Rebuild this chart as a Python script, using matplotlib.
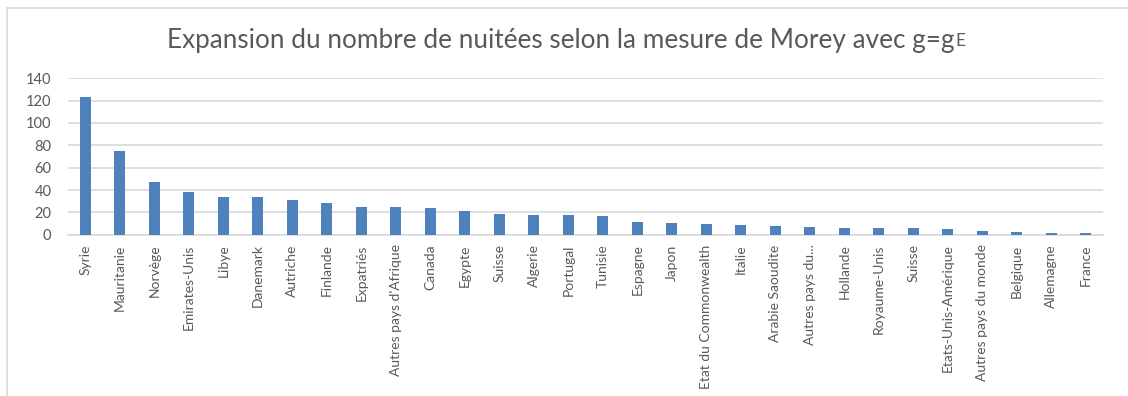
import matplotlib.pyplot as plt
from matplotlib.lines import Line2D
import numpy as np

pays = ["Syrie", "Mauritanie", "Norvège", "Emirates-Unis", "Libye", "Danemark",
        "Autriche", "Finlande", "Expatriés", "Autres pays d'Afrique", "Canada",
        "Egypte", "Suisse", "Algerie", "Portugal", "Tunisie", "Espagne", "Japon",
        "Etat du Commonwealth", "Italie", "Arabie Saoudite", "Autres pays du...",
        "Hollande", "Royaume-Unis", "Suisse", "Etats-Unis-Amérique",
        "Autres pays du monde", "Belgique", "Allemagne", "France"]
expansion = [123, 75, 47, 38, 34, 34, 31, 28.5, 25, 24.7, 24, 21.5, 18.5, 18,
             17.6, 16.7, 11.6, 10.7, 9.3, 9, 7.5, 7.3, 6, 6, 6, 4.8, 3.3, 2.4,
             1.5, 1.2]
yticks = [0, 20, 40, 60, 80, 100, 120, 140]

gris = "#595959"
plt.rcParams["font.family"] = ["Lato", "DejaVu Sans"]

fig = plt.figure(figsize=(11.28, 3.96), dpi=100)
ax = fig.add_axes([0.0603, 0.4073, 0.9177, 0.395])

x = np.arange(len(pays))
ax.bar(x, expansion, width=0.32, color="#4f81bd", zorder=3)

ax.set_xlim(-0.5, len(pays) - 0.5)
ax.set_ylim(0, 140)
ax.set_yticks(yticks)
ax.set_xticks(x)
ax.set_xticklabels(pays, rotation=90, fontsize=10, color=gris)
ax.tick_params(axis="y", length=0, pad=12, labelsize=10.5, labelcolor=gris)
ax.tick_params(axis="x", length=0, pad=7)
ax.grid(axis="y", color="#d9d9d9", linewidth=1.2, zorder=0)
for s in ["top", "right", "left"]:
    ax.spines[s].set_visible(False)
ax.spines["bottom"].set_color("#d9d9d9")
ax.spines["bottom"].set_linewidth(1.2)

# titre avec l'indice E
titre = fig.text(0.497, 0.898, "Expansion du nombre de nuitées selon la mesure de Morey avec g=g",
                 ha="center", va="center", fontsize=18.8, color=gris)
ax.annotate("E", xy=(1, 0), xycoords=titre, xytext=(0.5, 2.5), textcoords="offset points",
            ha="left", va="bottom", fontsize=12.5, color=gris, annotation_clip=False)

# cadre de la zone de graphique
fig.add_artist(Line2D([7 / 1128, 7 / 1128], [0, 1 - 8 / 396], transform=fig.transFigure,
                      color="#d9d9d9", linewidth=1.2))
fig.add_artist(Line2D([7 / 1128, 1], [1 - 8 / 396, 1 - 8 / 396], transform=fig.transFigure,
                      color="#d9d9d9", linewidth=1.2))

fig.savefig("out.png", dpi=100)
